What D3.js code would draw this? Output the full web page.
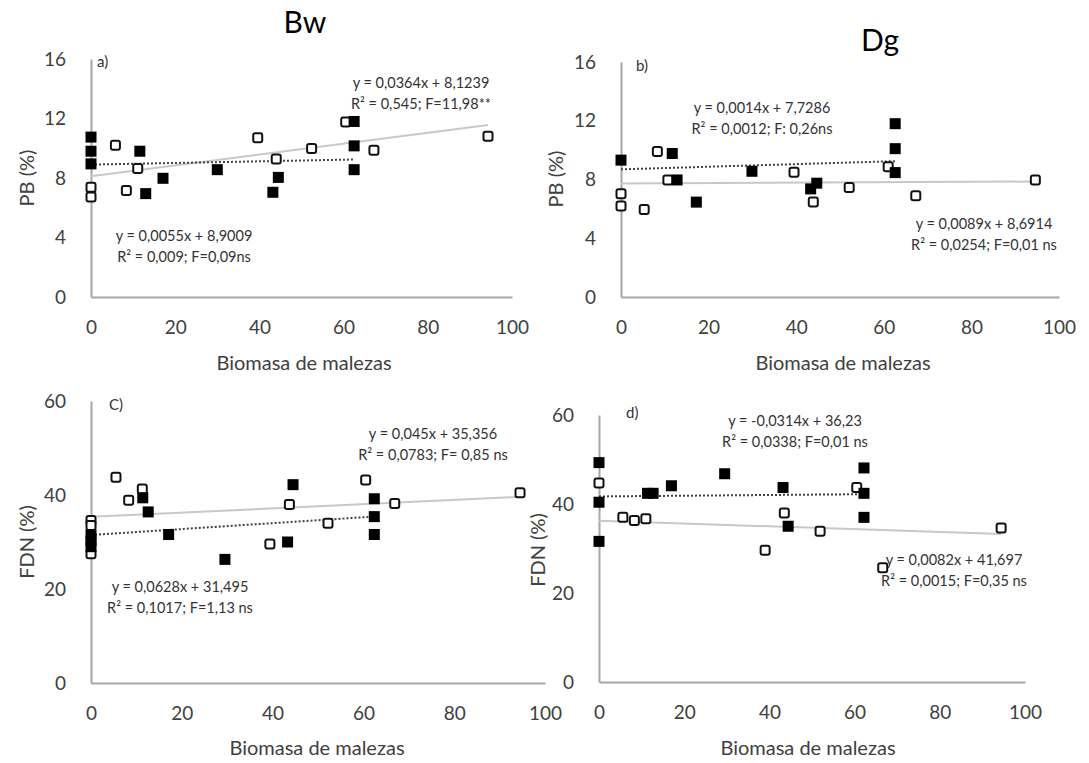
<!DOCTYPE html>
<html>
<head>
<meta charset="utf-8">
<script src="https://cdn.jsdelivr.net/npm/d3@7"></script>
<style>
  body { margin: 0; background: #fff; }
  text { font-family: Lato, "Open Sans", sans-serif; fill: #404040; }
</style>
</head>
<body>
<svg id="chart" width="1089" height="763"></svg>
<script>
// tick labels
var xTicks = [0, 20, 40, 60, 80, 100];
var pbTicks = [0, 4, 8, 12, 16];
var fdnTicks = [0, 20, 40, 60];

// a) Bw - PB
var aFilledX = [0, 0, 0, 11.6, 13.0, 17.1, 30.0, 43.2, 44.5, 62.5, 62.5, 62.5];
var aFilledY = [10.75, 9.8, 8.95, 9.8, 6.95, 7.98, 8.56, 7.04, 8.04, 11.8, 10.16, 8.56];
var aOpenX = [0, 0, 5.8, 8.4, 11.1, 39.6, 44.0, 52.4, 60.5, 67.2, 94.3];
var aOpenY = [7.38, 6.72, 10.2, 7.16, 8.64, 10.7, 9.27, 9.98, 11.76, 9.87, 10.8];

// b) Dg - PB
var bFilledX = [0, 11.7, 12.8, 17.2, 29.9, 43.3, 44.7, 62.6, 62.6, 62.6];
var bFilledY = [9.32, 9.77, 7.97, 6.46, 8.56, 7.36, 7.75, 11.8, 10.1, 8.47];
var bOpenX = [0, 0, 5.3, 8.3, 10.7, 39.5, 43.9, 52.1, 61.0, 67.3, 94.6];
var bOpenY = [7.03, 6.19, 5.95, 9.9, 7.97, 8.49, 6.46, 7.45, 8.87, 6.89, 7.97];

// c) Bw - FDN
var cFilledX = [0, 0, 0, 11.4, 12.6, 17.1, 29.5, 43.3, 44.5, 62.4, 62.4, 62.4];
var cFilledY = [31.5, 30.2, 29.0, 39.4, 36.4, 31.6, 26.3, 30.0, 42.2, 39.2, 35.4, 31.6];
var cOpenX = [0, 0, 0, 5.5, 8.3, 11.3, 39.4, 43.7, 52.2, 60.5, 66.9, 94.5];
var cOpenY = [34.6, 33.5, 27.5, 43.8, 38.9, 41.3, 29.6, 38.0, 34.0, 43.2, 38.2, 40.5];

// d) Dg - FDN
var dFilledX = [0, 0, 0, 11.4, 12.7, 17.0, 29.5, 43.2, 44.4, 62.2, 62.2, 62.2];
var dFilledY = [49.3, 40.4, 31.6, 42.4, 42.4, 44.1, 46.8, 43.7, 35.0, 48.1, 42.4, 37.0];
var dOpenX = [0, 5.6, 8.3, 11.0, 39.0, 43.5, 51.9, 60.5, 66.6, 94.4];
var dOpenY = [44.7, 37.0, 36.3, 36.7, 29.6, 38.0, 33.9, 43.7, 25.7, 34.6];

// regression lines [slope, intercept]
var aFitOpen = [0.0364, 8.1239], aFitFilled = [0.0055, 8.9009];
var bFitOpen = [0.0014, 7.7286], bFitFilled = [0.0089, 8.6914];
var cFitOpen = [0.045, 35.356], cFitFilled = [0.0628, 31.495];
var dFitOpen = [-0.0314, 36.23], dFitFilled = [0.0082, 41.697];

// equation labels
var aEqOpen = ["y = 0,0364x + 8,1239", "R² = 0,545; F=11,98**"];
var aEqFilled = ["y = 0,0055x + 8,9009", "R² = 0,009; F=0,09ns"];
var bEqOpen = ["y = 0,0014x + 7,7286", "R² = 0,0012; F: 0,26ns"];
var bEqFilled = ["y = 0,0089x + 8,6914", "R² = 0,0254; F=0,01 ns"];
var cEqOpen = ["y = 0,045x + 35,356", "R² = 0,0783; F= 0,85 ns"];
var cEqFilled = ["y = 0,0628x + 31,495", "R² = 0,1017; F=1,13 ns"];
var dEqOpen = ["y = -0,0314x + 36,23", "R² = 0,0338; F=0,01 ns"];
var dEqFilled = ["y = 0,0082x + 41,697", "R² = 0,0015; F=0,35 ns"];

var svg = d3.select("#chart");

// column titles
svg.append("text").attr("x", 305).attr("y", 22).attr("dy", "0.35em")
    .attr("text-anchor", "middle").style("font-size", "30px").style("fill", "#000").text("Bw");
svg.append("text").attr("x", 880).attr("y", 40).attr("dy", "0.35em")
    .attr("text-anchor", "middle").style("font-size", "30px").style("fill", "#000").text("Dg");

var panels = [
  { letter: "a)", box: [91, 512, 59, 297], yMax: 16, yTicks: pbTicks, yTitle: "PB (%)",
    filled: [aFilledX, aFilledY], open: [aOpenX, aOpenY], fitF: aFitFilled, fitO: aFitOpen,
    eqF: aEqFilled, eqO: aEqOpen, eqFPos: [184, 236], eqOPos: [421, 83],
    letterPos: [97, 62], yTitlePos: [27, 178], xTitlePos: [304, 363] },
  { letter: "b)", box: [621, 1059, 62, 297], yMax: 16, yTicks: pbTicks, yTitle: "PB (%)",
    filled: [bFilledX, bFilledY], open: [bOpenX, bOpenY], fitF: bFitFilled, fitO: bFitOpen,
    eqF: bEqFilled, eqO: bEqOpen, eqFPos: [984, 224], eqOPos: [762, 108],
    letterPos: [636, 66], yTitlePos: [556, 179], xTitlePos: [843, 363] },
  { letter: "C)", box: [91, 545, 401, 683], yMax: 60, yTicks: fdnTicks, yTitle: "FDN (%)",
    filled: [cFilledX, cFilledY], open: [cOpenX, cOpenY], fitF: cFitFilled, fitO: cFitOpen,
    eqF: cEqFilled, eqO: cEqOpen, eqFPos: [180, 587], eqOPos: [433, 434],
    letterPos: [109, 405], yTitlePos: [27, 542], xTitlePos: [317, 748] },
  { letter: "d)", box: [599, 1025, 415, 682], yMax: 60, yTicks: fdnTicks, yTitle: "FDN (%)",
    filled: [dFilledX, dFilledY], open: [dOpenX, dOpenY], fitF: dFitFilled, fitO: dFitOpen,
    eqF: dEqFilled, eqO: dEqOpen, eqFPos: [954, 560], eqOPos: [795, 421],
    letterPos: [626, 413], yTitlePos: [538, 550], xTitlePos: [808, 748] }
];

panels.forEach(function(p) {
  var x = d3.scaleLinear().domain([0, 100]).range([p.box[0], p.box[1]]);
  var y = d3.scaleLinear().domain([0, p.yMax]).range([p.box[3], p.box[2]]);
  var g = svg.append("g");

  // axes
  var yAxis = g.append("g").attr("transform", "translate(" + p.box[0] + ",0)")
      .call(d3.axisLeft(y).tickValues(p.yTicks).tickSize(0).tickPadding(25));
  var xAxis = g.append("g").attr("transform", "translate(0," + p.box[3] + ")")
      .call(d3.axisBottom(x).tickValues(xTicks).tickSize(0).tickPadding(24));
  [yAxis, xAxis].forEach(function(a) {
    a.select(".domain").attr("stroke", "#a6a6a6").attr("stroke-width", 2);
    a.selectAll("text").style("font-size", "19px").style("fill", "#404040")
      .style("font-family", "Lato, 'Open Sans', sans-serif");
  });

  // regression lines
  function fitLine(fit, xs, cls) {
    var ext = d3.extent(xs);
    var line = g.append("line")
        .attr("x1", x(ext[0])).attr("y1", y(fit[0] * ext[0] + fit[1]))
        .attr("x2", x(ext[1])).attr("y2", y(fit[0] * ext[1] + fit[1]));
    if (cls === "dot") line.attr("stroke", "#404040").attr("stroke-width", 2).attr("stroke-dasharray", "2,2");
    else line.attr("stroke", "#c8c8c8").attr("stroke-width", 2);
  }
  fitLine(p.fitO, p.open[0], "solid");
  fitLine(p.fitF, p.filled[0], "dot");

  // open squares
  g.selectAll(".open").data(p.open[0]).enter().append("rect")
      .attr("x", function(d) { return x(d) - 4.5; })
      .attr("y", function(d, i) { return y(p.open[1][i]) - 4.5; })
      .attr("width", 9).attr("height", 9).attr("rx", 2)
      .attr("fill", "#fff").attr("stroke", "#111").attr("stroke-width", 2);

  // filled squares
  g.selectAll(".filled").data(p.filled[0]).enter().append("rect")
      .attr("x", function(d) { return x(d) - 5.5; })
      .attr("y", function(d, i) { return y(p.filled[1][i]) - 5.5; })
      .attr("width", 11).attr("height", 11)
      .attr("fill", "#000");

  // equations
  function eq(lines, pos) {
    lines.forEach(function(t, i) {
      g.append("text").attr("x", pos[0]).attr("y", pos[1] + i * 21).attr("dy", "0.35em")
          .attr("text-anchor", "middle").style("font-size", "14.5px").style("fill", "#333").text(t);
    });
  }
  eq(p.eqO, p.eqOPos);
  eq(p.eqF, p.eqFPos);

  // panel letter
  g.append("text").attr("x", p.letterPos[0]).attr("y", p.letterPos[1]).attr("dy", "0.35em")
      .style("font-size", "15px").style("fill", "#333").text(p.letter);

  // axis titles
  g.append("text").attr("transform", "translate(" + p.yTitlePos[0] + "," + p.yTitlePos[1] + ") rotate(-90)")
      .attr("dy", "0.35em").attr("text-anchor", "middle").style("font-size", "20px").text(p.yTitle);
  g.append("text").attr("x", p.xTitlePos[0]).attr("y", p.xTitlePos[1]).attr("dy", "0.35em")
      .attr("text-anchor", "middle").style("font-size", "20px").text("Biomasa de malezas");
});
</script>
</body>
</html>
